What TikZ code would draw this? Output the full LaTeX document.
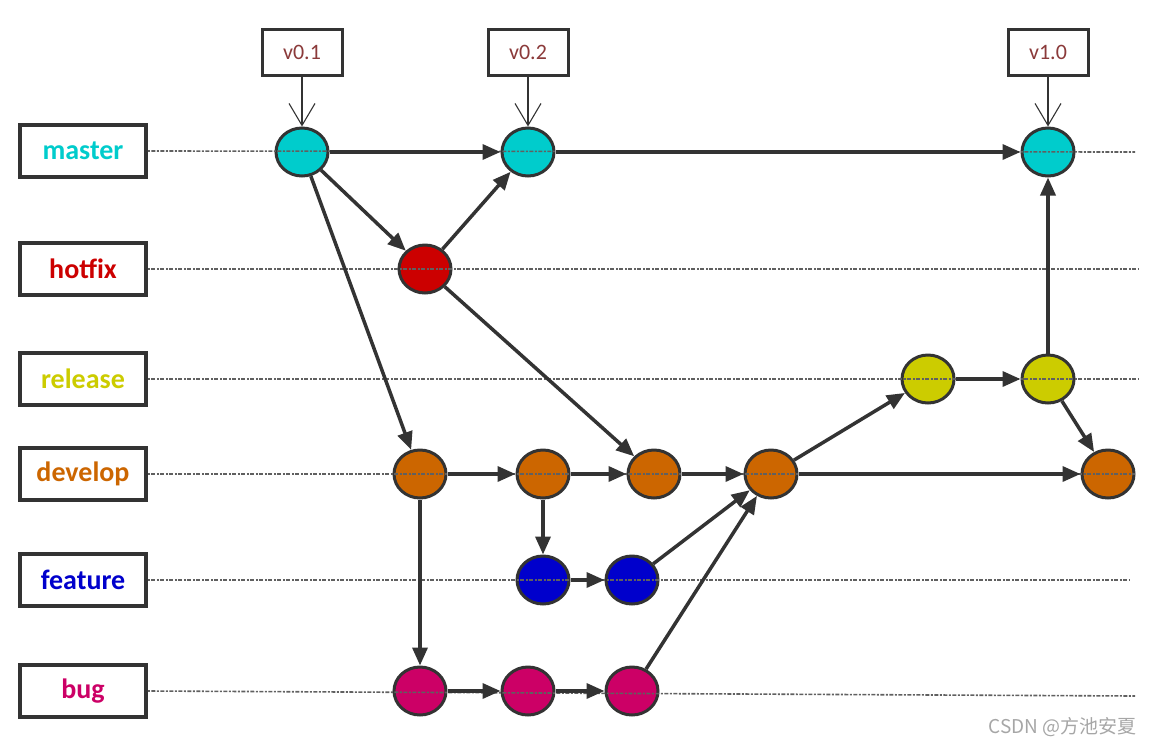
\documentclass[tikz,border=0pt]{standalone}
\usepackage{fontspec}
\setmainfont{Carlito}
\newfontfamily\cjk{Noto Sans CJK SC}
\usetikzlibrary{shapes.geometric,arrows.meta}
\definecolor{cmaster}{HTML}{00CCCC}
\definecolor{chotfix}{HTML}{CC0000}
\definecolor{crelease}{HTML}{CCCC00}
\definecolor{cdevelop}{HTML}{CC6600}
\definecolor{cfeature}{HTML}{0000CC}
\definecolor{cbug}{HTML}{CC0066}
\definecolor{dk}{HTML}{333333}
\definecolor{tagred}{HTML}{8B3A3A}
\tikzset{
  lbl/.style={draw=dk, line width=3.8pt, fill=white, minimum width=126pt, minimum height=52pt, font=\bfseries\fontsize{28}{30}\selectfont, inner sep=0pt},
  commit/.style={ellipse, draw=dk, line width=3pt, minimum width=52pt, minimum height=48pt, inner sep=0pt},
  tag/.style={draw=dk, line width=3pt, fill=white, minimum width=80pt, minimum height=46pt, text=tagred, font=\fontsize{22}{24}\selectfont, inner sep=0pt},
  lane/.style={draw=gray!75!black, line width=1.6pt, dash pattern=on 2pt off 1.5pt on 4pt off 1.5pt},
  flow/.style={draw=dk, line width=3.5pt, -{Triangle[length=18pt,width=15pt]}},
  tagarrow/.style={draw=dk, line width=1.1pt, -{Straight Barb[length=22pt,width=26pt,line width=1.1pt]}}
}
\begin{document}
\begin{tikzpicture}[x=1pt,y=-1pt]
\useasboundingbox (0,0) rectangle (1153,745);
% labels
\node[lbl, text=cmaster] (Lm) at (83,151) {master};
\node[lbl, text=chotfix] (Lh) at (83,269) {hotfix};
\node[lbl, text=crelease] (Lr) at (83,379) {release};
\node[lbl, text=cdevelop] (Ld) at (83,474) {develop};
\node[lbl, text=cfeature] (Lf) at (83,580) {feature};
\node[lbl, text=cbug] (Lb) at (83,691) {bug};
% lane ends
\coordinate (Em) at (1135,152);
\coordinate (Eh) at (1138,269);
\coordinate (Er) at (1138,379);
\coordinate (Ed) at (1135,474);
\coordinate (Ef) at (1130,580);
\coordinate (Eb) at (1135,696);
% commits
\node[commit, fill=cmaster] (m1) at (302,152) {};
\node[commit, fill=cmaster] (m2) at (528,152) {};
\node[commit, fill=cmaster] (m3) at (1048,152) {};
\node[commit, fill=chotfix] (h1) at (425,269) {};
\node[commit, fill=crelease] (r1) at (928,379) {};
\node[commit, fill=crelease] (r2) at (1048,379) {};
\node[commit, fill=cdevelop] (d1) at (420,474) {};
\node[commit, fill=cdevelop] (d2) at (543,474) {};
\node[commit, fill=cdevelop] (d3) at (654,474) {};
\node[commit, fill=cdevelop] (d4) at (771,474) {};
\node[commit, fill=cdevelop] (d5) at (1108,474) {};
\node[commit, fill=cfeature] (f1) at (543,580) {};
\node[commit, fill=cfeature] (f2) at (632,580) {};
\node[commit, fill=cbug] (b1) at (420,691) {};
\node[commit, fill=cbug] (b2) at (528,691) {};
\node[commit, fill=cbug] (b3) at (632,691) {};
% lanes
\draw[lane] (Lm.east) -- (Em);
\draw[lane] (Lh.east) -- (Eh);
\draw[lane] (Lr.east) -- (Er);
\draw[lane] (Ld.east) -- (Ed);
\draw[lane] (Lf.east) -- (Ef);
\draw[lane] (Lb.east) -- (Eb);
% tags
\node[tag] (t1) at (302,52) {v0.1};
\node[tag] (t2) at (528,52) {v0.2};
\node[tag] (t3) at (1048,52) {v1.0};
\draw[tagarrow] (t1.south) -- (m1.north);
\draw[tagarrow] (t2.south) -- (m2.north);
\draw[tagarrow] (t3.south) -- (m3.north);
% flows
\draw[flow] (m1) -- (m2);
\draw[flow] (m2) -- (m3);
\draw[flow] (m1) -- (h1);
\draw[flow] (h1) -- (m2);
\draw[flow] (m1) -- (d1);
\draw[flow] (h1) -- (d3);
\draw[flow] (d1) -- (d2);
\draw[flow] (d2) -- (d3);
\draw[flow] (d3) -- (d4);
\draw[flow] (d4) -- (d5);
\draw[flow] (d4) -- (r1);
\draw[flow] (r1) -- (r2);
\draw[flow] (r2) -- (m3);
\draw[flow] (r2) -- (d5);
\draw[flow] (d2) -- (f1);
\draw[flow] (f1) -- (f2);
\draw[flow] (f2) -- (d4);
\draw[flow] (b3) -- (d4);
\draw[flow] (d1) -- (b1);
\draw[flow] (b1) -- (b2);
\draw[flow] (b2) -- (b3);
% watermark
\node[text=gray!70, font=\cjk\fontsize{19}{22}\selectfont, anchor=east] (wm) at (1140,727) {CSDN @方池安夏};
\end{tikzpicture}
\end{document}
